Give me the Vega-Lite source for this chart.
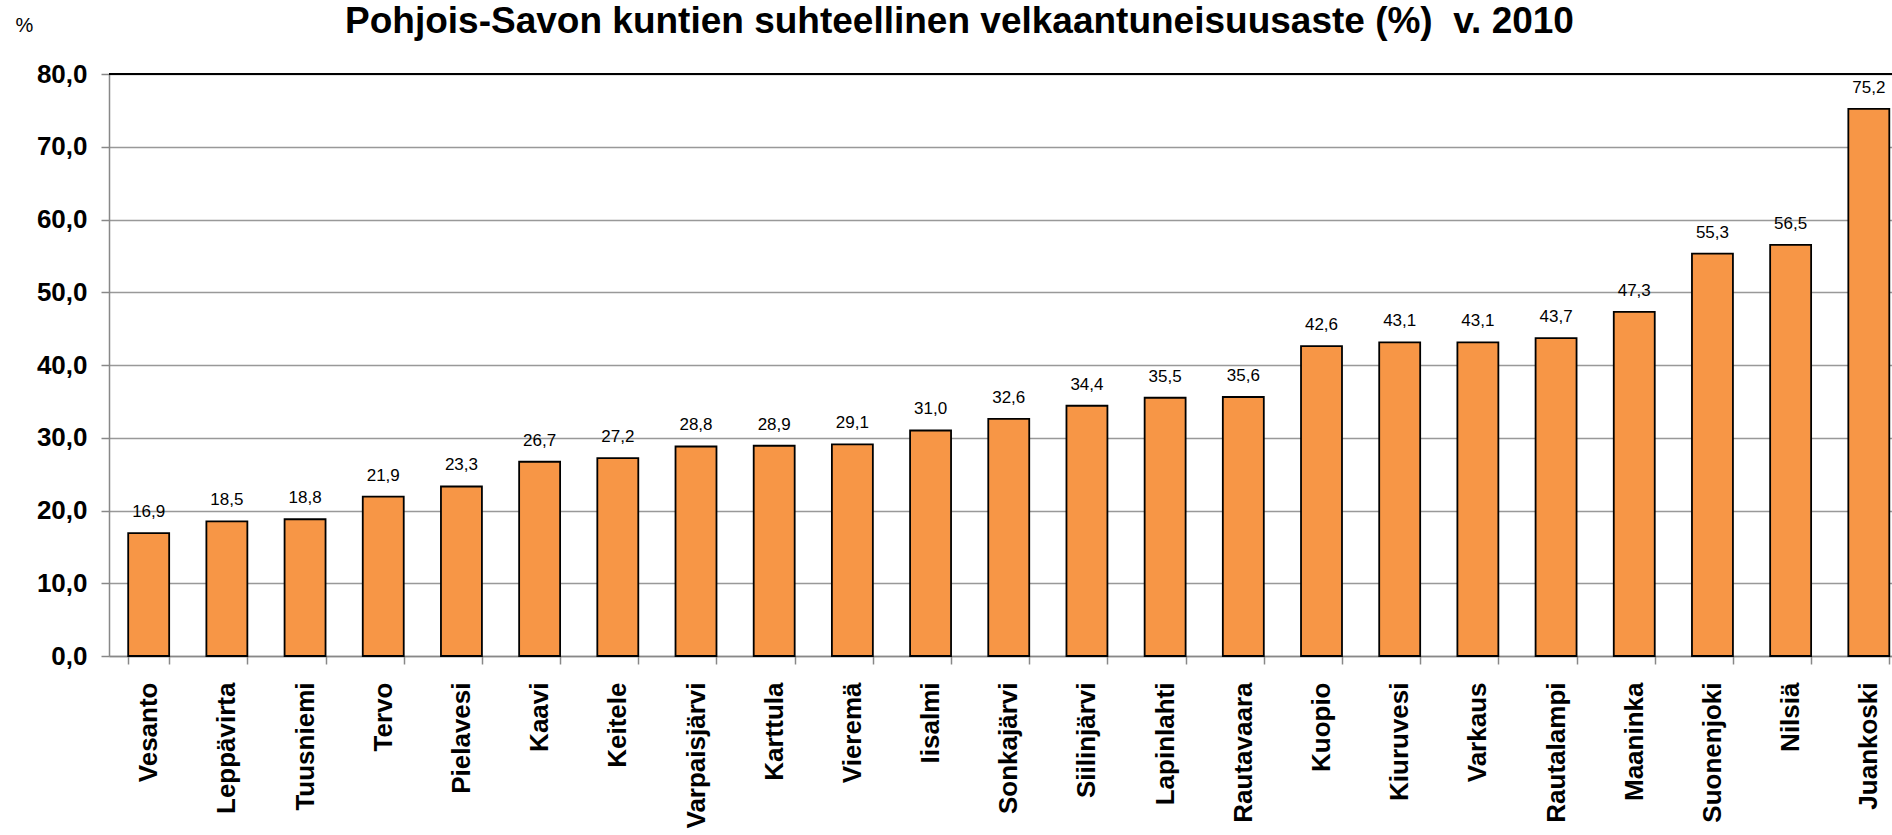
{
  "$schema": "https://vega.github.io/schema/vega-lite/v6.json",
  "autosize": {"type": "none"},
  "padding": {"left": 109, "top": 74, "right": 0, "bottom": 179},
  "width": 1783,
  "height": 582,
  "background": "white",
  "config": {
    "locale": {"number": {"decimal": ",", "thousands": " ", "grouping": [3], "currency": ["", " €"]}},
    "font": "Liberation Sans",
    "view": {"stroke": null}
  },
  "title": {
    "text": "Pohjois-Savon kuntien suhteellinen velkaantuneisuusaste (%)\u00a0 v. 2010",
    "font": "Liberation Sans",
    "fontSize": 37,
    "fontWeight": "bold",
    "color": "black",
    "anchor": "middle",
    "baseline": "alphabetic",
    "offset": -55,
    "dx": -41
  },
  "data": {
    "values": [
      {"kunta": "Vesanto", "arvo": 16.9},
      {"kunta": "Leppävirta", "arvo": 18.5},
      {"kunta": "Tuusniemi", "arvo": 18.8},
      {"kunta": "Tervo", "arvo": 21.9},
      {"kunta": "Pielavesi", "arvo": 23.3},
      {"kunta": "Kaavi", "arvo": 26.7},
      {"kunta": "Keitele", "arvo": 27.2},
      {"kunta": "Varpaisjärvi", "arvo": 28.8},
      {"kunta": "Karttula", "arvo": 28.9},
      {"kunta": "Vieremä", "arvo": 29.1},
      {"kunta": "Iisalmi", "arvo": 31.0},
      {"kunta": "Sonkajärvi", "arvo": 32.6},
      {"kunta": "Siilinjärvi", "arvo": 34.4},
      {"kunta": "Lapinlahti", "arvo": 35.5},
      {"kunta": "Rautavaara", "arvo": 35.6},
      {"kunta": "Kuopio", "arvo": 42.6},
      {"kunta": "Kiuruvesi", "arvo": 43.1},
      {"kunta": "Varkaus", "arvo": 43.1},
      {"kunta": "Rautalampi", "arvo": 43.7},
      {"kunta": "Maaninka", "arvo": 47.3},
      {"kunta": "Suonenjoki", "arvo": 55.3},
      {"kunta": "Nilsiä", "arvo": 56.5},
      {"kunta": "Juankoski", "arvo": 75.2}
    ]
  },
  "encoding": {
    "x": {
      "field": "kunta",
      "type": "nominal",
      "sort": null,
      "scale": {"paddingInner": 0.476, "paddingOuter": 0.14, "align": 0.877},
      "axis": {
        "title": null,
        "labelAngle": -90,
        "labelAlign": "right",
        "labelBaseline": "middle",
        "labelFont": "Liberation Sans",
        "labelFontSize": 26,
        "labelFontWeight": "bold",
        "labelColor": "black",
        "labelPadding": 18,
        "tickBand": "extent",
        "tickSize": 8,
        "tickColor": "#888888",
        "tickWidth": 1.5,
        "domainColor": "#888888",
        "domainWidth": 1.5,
        "grid": false
      }
    },
    "y": {
      "field": "arvo",
      "type": "quantitative",
      "scale": {"domain": [0, 80], "nice": false},
      "axis": {
        "values": [0, 10, 20, 30, 40, 50, 60, 70, 80],
        "format": ".1f",
        "title": "%",
        "titleAngle": 0,
        "titleX": -85,
        "titleY": -49,
        "titleAlign": "center",
        "titleBaseline": "middle",
        "titleFont": "Liberation Sans",
        "titleFontSize": 20,
        "titleFontWeight": "normal",
        "titleColor": "black",
        "labelFont": "Liberation Sans",
        "labelFontSize": 26,
        "labelFontWeight": "bold",
        "labelColor": "black",
        "labelPadding": 14,
        "tickSize": 8,
        "tickColor": "#888888",
        "tickWidth": 1.5,
        "domainColor": "#888888",
        "domainWidth": 1.5,
        "grid": true,
        "gridColor": "#999999",
        "gridWidth": 1.5
      }
    }
  },
  "layer": [
    {
      "mark": {"type": "bar", "fill": "#F79646", "stroke": "black", "strokeWidth": 1.8}
    },
    {
      "mark": {"type": "text", "baseline": "alphabetic", "dy": -16, "fontSize": 17, "font": "Liberation Sans", "color": "black"},
      "encoding": {"text": {"field": "arvo", "type": "quantitative", "format": ".1f"}}
    },
    {
      "data": {"values": [{"raja": 80}]},
      "mark": {"type": "rule", "color": "black", "strokeWidth": 2},
      "encoding": {"y": {"field": "raja", "type": "quantitative"}, "x": null}
    }
  ]
}
